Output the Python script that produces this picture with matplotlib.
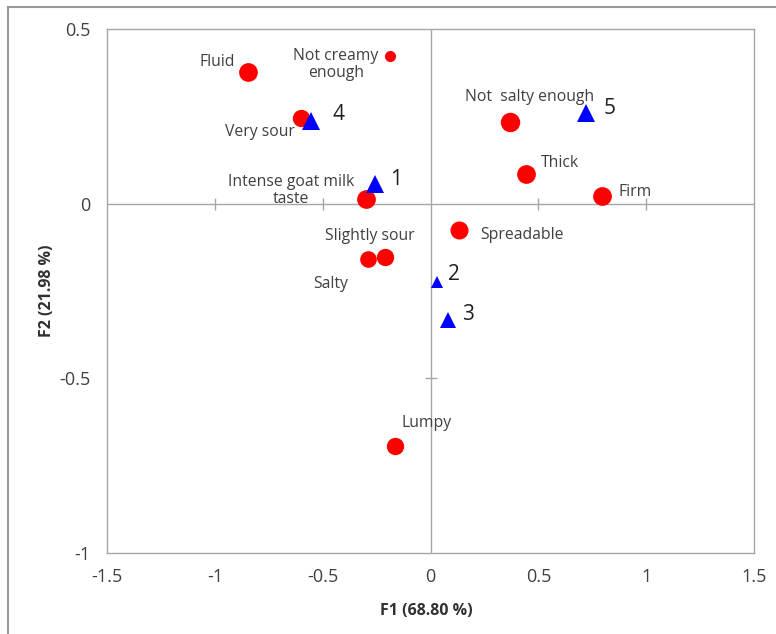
import matplotlib

matplotlib.use("Agg")

import matplotlib.pyplot as plt
from matplotlib.lines import Line2D

plt.rcParams["font.family"] = ["Open Sans", "DejaVu Sans"]

# 属性（红色圆点）
attr_names = ["Fluid", "Not creamy\nenough", "Very sour", "Intense goat milk\ntaste",
              "Slightly sour", "Salty", "Spreadable", "Not  salty enough",
              "Thick", "Firm", "Lumpy"]
attr_f1 = [-0.848, -0.188, -0.600, -0.300, -0.211, -0.290, 0.132, 0.369, 0.441, 0.795, -0.165]
attr_f2 = [0.377, 0.424, 0.244, 0.013, -0.152, -0.159, -0.074, 0.235, 0.086, 0.022, -0.694]

# 样品（蓝色三角）
prod_names = ["1", "2", "3", "4", "5"]
prod_f1 = [-0.259, 0.032, 0.081, -0.554, 0.719]
prod_f2 = [0.056, -0.223, -0.333, 0.238, 0.259]

xticks = [-1.5, -1, -0.5, 0, 0.5, 1, 1.5]
yticks = [-1, -0.5, 0, 0.5]

# 点大小与标签偏移（像素）
attr_ms = [13.5, 8, 12.5, 13.5, 12.5, 12, 13, 14, 13.5, 13.5, 12.5]
attr_off = [(-13, 10, "right"), (-54, -9, "center"), (-6, -14, "right"), (-75, 9, "center"),
            (-15, 21, "center"), (-20, -25, "right"), (21, -5, "left"), (19, 25, "center"),
            (15, 11, "left"), (17, 4, "left"), (32, 23, "center")]
prod_ms = [13, 8, 12, 13.5, 13]
prod_off = [(15, 5), (11, 7), (14, 5), (21, 6), (18, 5)]

GRID = "#a6a6a6"
TXT = "#404040"

fig = plt.figure(figsize=(7.76, 6.34), dpi=100)
ax = fig.add_axes([107 / 776, 1 - 553 / 634, 647 / 776, 524 / 634])

ax.axhline(0, color=GRID, lw=1, zorder=1)
ax.axvline(0, color=GRID, lw=1, zorder=1)
inner_x = [t for t in xticks if t not in (0, -1.5, 1.5)]
inner_y = [t for t in yticks if t not in (0, -1, 0.5)]
ax.plot(inner_x, [0] * len(inner_x), ls="none", marker="|", ms=8, mec=GRID, mew=1, zorder=1)
ax.plot([0] * len(inner_y), inner_y, ls="none", marker="_", ms=9, mec=GRID, mew=1, zorder=1)

for x, y, ms in zip(attr_f1, attr_f2, attr_ms):
    ax.plot(x, y, "o", color="#ff0000", ms=ms, mew=0, zorder=3)
for x, y, ms in zip(prod_f1, prod_f2, prod_ms):
    ax.plot(x, y, "^", color="#0000ff", ms=ms, mew=0, zorder=4)

for name, x, y, (dx, dy, ha) in zip(attr_names, attr_f1, attr_f2, attr_off):
    ax.annotate(name, (x, y), xytext=(dx * 0.72, dy * 0.72), textcoords="offset points",
                ha=ha, va="center", multialignment="center", fontsize=11.3, color=TXT,
                linespacing=1.1, zorder=5)
for name, x, y, (dx, dy) in zip(prod_names, prod_f1, prod_f2, prod_off):
    ax.annotate(name, (x, y), xytext=(dx * 0.72, dy * 0.72), textcoords="offset points",
                ha="left", va="center", fontsize=15, color="#202020", zorder=5)

ax.set_xlim(-1.5, 1.5)
ax.set_ylim(-1, 0.5)
ax.set_xticks(xticks)
ax.set_xticklabels([f"{t:g}" for t in xticks])
ax.set_yticks(yticks)
ax.set_yticklabels([f"{t:g}" for t in yticks])
ax.tick_params(length=0, labelsize=13, labelcolor=TXT)
ax.tick_params(axis="x", pad=11)
ax.tick_params(axis="y", pad=12)
for sp in ax.spines.values():
    sp.set_color(GRID)
    sp.set_linewidth(1)

ax.set_xlabel("F1 (68.80 %)", fontsize=11.5, fontweight="bold", color="#303030")
ax.set_ylabel("F2 (21.98 %)", fontsize=11.5, fontweight="bold", color="#303030")
ax.xaxis.set_label_coords(0.493, -0.095)
ax.yaxis.set_label_coords(-0.081, 0.5)

# 外框（只露出左、上两边）
fig.add_artist(Line2D([8 / 776, 8 / 776], [0, 1 - 7 / 634], color="#999999", lw=1.5))
fig.add_artist(Line2D([8 / 776, 1], [1 - 7 / 634, 1 - 7 / 634], color="#999999", lw=1.5))

fig.savefig("out.png", dpi=100)
